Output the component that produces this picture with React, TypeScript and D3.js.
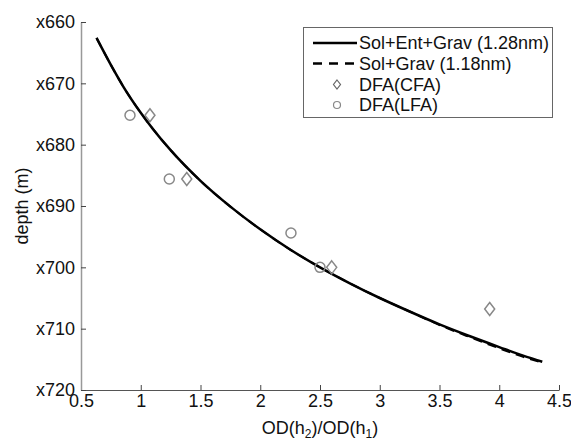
import React, { useRef, useEffect } from 'react';
import * as d3 from 'd3';

// model curves: [OD ratio, depth]
const solOD = [0.63, 0.75, 0.85, 1.0, 1.1, 1.25, 1.5, 1.75, 2.0, 2.25, 2.5, 2.75, 3.0, 3.25, 3.5, 3.75, 4.0, 4.2, 4.36];
const solEntGrav = [662.6, 667.0, 670.4, 674.8, 677.4, 680.9, 685.9, 690.1, 693.8, 697.1, 700.0, 702.6, 705.0, 707.2, 709.3, 711.2, 713.0, 714.4, 715.4];
const solGrav = [662.6, 667.0, 670.4, 674.8, 677.4, 680.9, 685.9, 690.1, 693.8, 697.1, 700.0, 702.6, 705.0, 707.2, 709.4, 711.35, 713.2, 714.6, 715.55];

const cfaOD = [1.077, 1.385, 2.598, 3.92];
const cfaDepth = [675.2, 685.6, 700.0, 706.8];
const lfaOD = [0.91, 1.239, 2.257, 2.5];
const lfaDepth = [675.2, 685.6, 694.4, 700.0];

const xTicks = [0.5, 1, 1.5, 2, 2.5, 3, 3.5, 4, 4.5];
const yTicks = [660, 670, 680, 690, 700, 710, 720];

const legendLabels = ['Sol+Ent+Grav (1.28nm)', 'Sol+Grav (1.18nm)', 'DFA(CFA)', 'DFA(LFA)'];

const FONT = '"Liberation Sans", Arial, Helvetica, sans-serif';

const App = () => {
  const svgRef = useRef(null);

  useEffect(() => {
    const width = 571;
    const height = 439;
    const svg = d3.select(svgRef.current)
      .attr('width', width)
      .attr('height', height);
    svg.selectAll('*').remove();

    const xScale = d3.scaleLinear().domain([0.5, 4.5]).range([81, 559]);
    const yScale = d3.scaleLinear().domain([660, 720]).range([22, 390]);

    // axes: only left and bottom, ticks pointing inward
    const xAxis = svg.append('g')
      .attr('transform', `translate(0, ${yScale(720)})`)
      .call(d3.axisBottom(xScale).tickValues(xTicks).tickSize(-5).tickSizeOuter(0).tickPadding(5)
        .tickFormat(d => String(d)));
    const yAxis = svg.append('g')
      .attr('transform', `translate(${xScale(0.5)}, 0)`)
      .call(d3.axisLeft(yScale).tickValues(yTicks).tickSize(-5).tickSizeOuter(0).tickPadding(6)
        .tickFormat(d => 'x' + d));

    xAxis.select('.domain').attr('stroke', '#555').attr('stroke-width', 1.2);
    yAxis.select('.domain').attr('stroke', '#999').attr('stroke-width', 1.5);
    [xAxis, yAxis].forEach(axis => {
      axis.selectAll('.tick line').attr('stroke', '#444');
      axis.selectAll('.tick text')
        .attr('fill', '#111')
        .style('font-family', FONT)
        .style('font-size', '18px');
    });
    xAxis.selectAll('.tick text').attr('dy', '0.85em').attr('y', 2);

    // axis titles
    svg.append('text')
      .attr('transform', `translate(28, ${yScale(690)}) rotate(-90)`)
      .attr('text-anchor', 'middle')
      .style('font-family', FONT)
      .style('font-size', '18px')
      .attr('fill', '#111')
      .text('depth (m)');

    const xl = svg.append('text')
      .attr('x', 320)
      .attr('y', 434)
      .attr('text-anchor', 'middle')
      .style('font-family', FONT)
      .style('font-size', '18px')
      .attr('fill', '#111');
    xl.append('tspan').text('OD(h');
    xl.append('tspan').attr('dy', 4).style('font-size', '12px').text('2');
    xl.append('tspan').attr('dy', -4).text(')/OD(h');
    xl.append('tspan').attr('dy', 4).style('font-size', '12px').text('1');
    xl.append('tspan').attr('dy', -4).text(')');

    // model lines
    const line = d3.line<number>()
      .x(i => xScale(solOD[i]))
      .curve(d3.curveMonotoneX);
    const idx = d3.range(solOD.length);

    svg.append('path')
      .datum(idx)
      .attr('fill', 'none')
      .attr('stroke', '#000')
      .attr('stroke-width', 2)
      .attr('stroke-dasharray', '9,6')
      .attr('d', line.y(i => yScale(solGrav[i])));

    svg.append('path')
      .datum(idx)
      .attr('fill', 'none')
      .attr('stroke', '#000')
      .attr('stroke-width', 2.5)
      .attr('d', line.y(i => yScale(solEntGrav[i])));

    // data markers
    const diamond = (cx, cy, w, h) => `M${cx},${cy - h}L${cx + w},${cy}L${cx},${cy + h}L${cx - w},${cy}Z`;

    svg.selectAll('.cfa')
      .data(d3.range(cfaOD.length))
      .enter().append('path')
      .attr('class', 'cfa')
      .attr('d', i => diamond(xScale(cfaOD[i]), yScale(cfaDepth[i]), 5, 6.5))
      .attr('fill', 'none')
      .attr('stroke', '#888')
      .attr('stroke-width', 1.5);

    svg.selectAll('.lfa')
      .data(d3.range(lfaOD.length))
      .enter().append('circle')
      .attr('class', 'lfa')
      .attr('cx', i => xScale(lfaOD[i]))
      .attr('cy', i => yScale(lfaDepth[i]))
      .attr('r', 5)
      .attr('fill', 'none')
      .attr('stroke', '#888')
      .attr('stroke-width', 1.5);

    // legend
    const legend = svg.append('g');
    legend.append('rect')
      .attr('x', 303.5)
      .attr('y', 27.5)
      .attr('width', 249)
      .attr('height', 90)
      .attr('fill', '#fff')
      .attr('stroke', '#666')
      .attr('stroke-width', 1);

    const rowY = [43, 63.5, 84.5, 105];
    legendLabels.forEach((label, i) => {
      const y = rowY[i];
      if (i === 0) {
        legend.append('line').attr('x1', 313).attr('x2', 357).attr('y1', y).attr('y2', y)
          .attr('stroke', '#000').attr('stroke-width', 2.5);
      } else if (i === 1) {
        legend.append('line').attr('x1', 313).attr('x2', 357).attr('y1', y).attr('y2', y)
          .attr('stroke', '#000').attr('stroke-width', 2.5).attr('stroke-dasharray', '9,7');
      } else if (i === 2) {
        legend.append('path').attr('d', diamond(337, y, 3.5, 4.5))
          .attr('fill', 'none').attr('stroke', '#666').attr('stroke-width', 1.2);
      } else {
        legend.append('circle').attr('cx', 337).attr('cy', y).attr('r', 3.5)
          .attr('fill', 'none').attr('stroke', '#888').attr('stroke-width', 1.2);
      }
      legend.append('text')
        .attr('x', 359)
        .attr('y', y)
        .attr('dy', '0.35em')
        .style('font-family', FONT)
        .style('font-size', '18px')
        .attr('fill', '#111')
        .text(label);
    });
  }, []);

  return <svg ref={svgRef} style={{ position: 'absolute', left: 0, top: 0, display: 'block' }}></svg>;
};

export default App;
